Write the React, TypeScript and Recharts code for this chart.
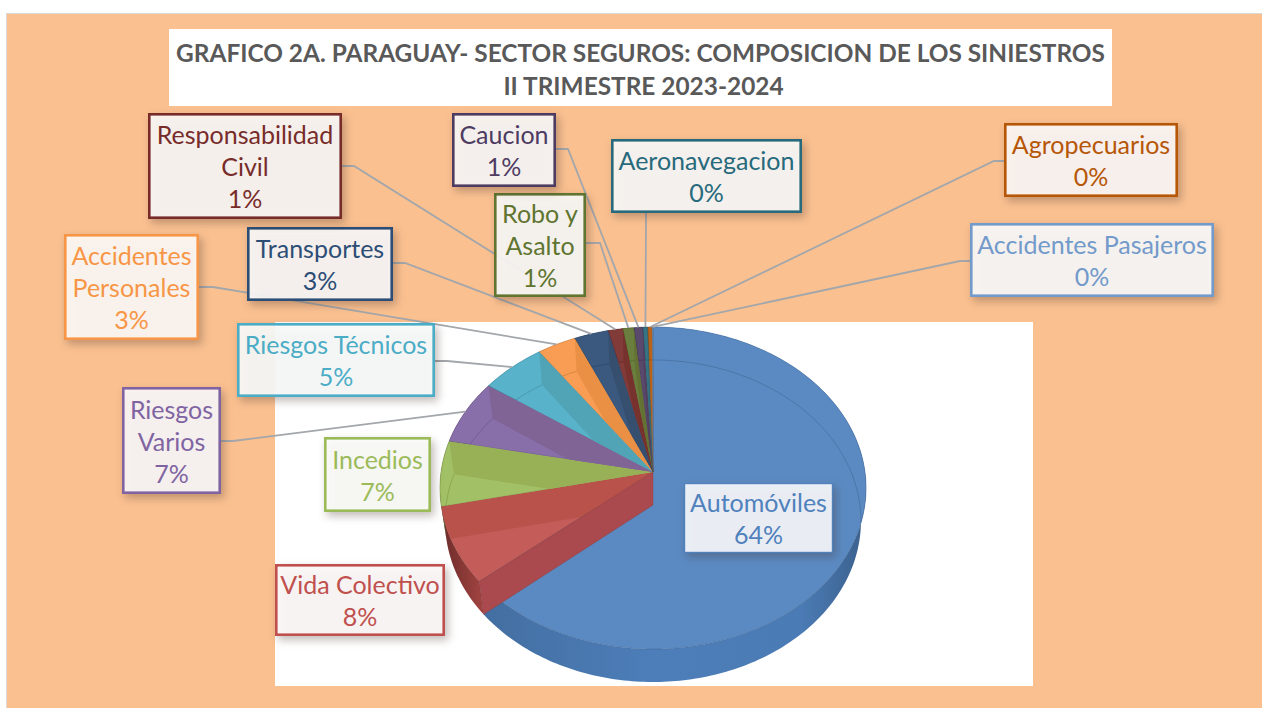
import React from 'react';
import { PieChart, Pie } from 'recharts';

const categoryLines: string[][] = [
  ['Automóviles'],
  ['Vida Colectivo'],
  ['Incedios'],
  ['Riesgos', 'Varios'],
  ['Riesgos Técnicos'],
  ['Accidentes', 'Personales'],
  ['Transportes'],
  ['Responsabilidad', 'Civil'],
  ['Robo y', 'Asalto'],
  ['Caucion'],
  ['Aeronavegacion'],
  ['Agropecuarios'],
  ['Accidentes Pasajeros'],
];
const values = [63.9, 7.7, 6.55, 6.55, 5.45, 3.25, 2.88, 1.22, 0.93, 0.74, 0.41, 0.37, 0.05];
const colors = ['#4f81bd', '#c0504d', '#9bbb59', '#8064a2', '#4bacc6', '#f79646', '#2c4d75', '#772c2a', '#5f7530', '#4d3b62', '#276a7c', '#b65708', '#729aca'];

const titleLines = ['GRAFICO 2A. PARAGUAY- SECTOR SEGUROS: COMPOSICION DE LOS SINIESTROS', 'II TRIMESTRE 2023-2024'];

const total = values.reduce((a, b) => a + b, 0);
const chartData = values.map((value, i) => ({ name: categoryLines[i].join(' '), value, fill: colors[i] }));

// layout of the callouts: [left, top, right, bottom]
const boxes: number[][] = [
  [684, 483, 833, 553],
  [275, 564, 445, 636],
  [324, 437, 431, 512],
  [122, 387, 221, 494],
  [237, 323, 435, 397],
  [64, 234, 199, 340],
  [247, 227, 393, 301],
  [148, 113, 342, 219],
  [494, 193, 586, 297],
  [452, 113, 556, 187],
  [611, 139, 802, 213],
  [1004, 123, 1178, 197],
  [970, 223, 1214, 297],
];
// leader start and elbow points (null: no leader)
const leaders: (number[][] | null)[] = [
  null,
  null,
  null,
  [[221, 441], [233, 441]],
  [[435, 361], [447, 361]],
  [[199, 287], [213, 287]],
  [[393, 263], [405, 263]],
  [[342, 166], [354, 166]],
  [[586, 243], [600, 243]],
  [[556, 149], [568, 149]],
  [[646, 213], [646, 220]],
  [[1004, 161], [994, 161]],
  [[970, 261], [960, 261]],
];

const RADIUS = 212;
const K = 0.752; // vertical squash
const PERSP = 0.0994;
const DEPTH = 33;
const BOTTOM_SCALE = 0.976;
const LABEL_FONT = 'Lato, sans-serif';

function mix(hex: string, to: string, t: number) {
  const p = (h: string) => [1, 3, 5].map((i) => parseInt(h.slice(i, i + 2), 16));
  const a = p(hex);
  const b = p(to);
  return '#' + a.map((v, i) => Math.round(v + (b[i] - v) * t).toString(16).padStart(2, '0')).join('');
}

function proj(cx: number, cy: number, deg: number, bottom: boolean): [number, number] {
  const rad = (deg * Math.PI) / 180;
  const u = Math.cos(rad);
  const v = -Math.sin(rad);
  const w = 1 - PERSP * v;
  const sx = bottom ? BOTTOM_SCALE : 1;
  return [cx + (RADIUS * sx * u) / w, cy + (bottom ? DEPTH : 0) + (RADIUS * K * v) / w];
}

function arc(cx: number, cy: number, a0: number, a1: number, bottom: boolean) {
  const n = Math.max(1, Math.ceil(Math.abs(a1 - a0)));
  const pts: [number, number][] = [];
  for (let i = 0; i <= n; i++) pts.push(proj(cx, cy, a0 + ((a1 - a0) * i) / n, bottom));
  return pts;
}

const toPath = (pts: number[][], close = true) =>
  'M' + pts.map((p) => `${p[0].toFixed(2)},${p[1].toFixed(2)}`).join('L') + (close ? 'Z' : '');

function WallShape(props: any) {
  const { cx, cy, startAngle, endAngle, fill } = props;
  const id = `wall-${Math.round(startAngle * 100)}`;
  const top = arc(cx, cy, startAngle, endAngle, false);
  const bot = arc(cx, cy, startAngle, endAngle, true);
  return (
    <g>
      <defs>
        <linearGradient id={id} gradientUnits="userSpaceOnUse" x1={cx - RADIUS} y1={0} x2={cx + RADIUS} y2={0}>
          <stop offset="0" stopColor={mix(fill, '#000000', 0.45)} />
          <stop offset="0.1" stopColor={mix(fill, '#000000', 0.15)} />
          <stop offset="0.5" stopColor={mix(fill, '#000000', 0.02)} />
          <stop offset="0.85" stopColor={mix(fill, '#000000', 0.05)} />
          <stop offset="1" stopColor={mix(fill, '#000000', 0.25)} />
        </linearGradient>
      </defs>
      <path d={toPath([...top, ...bot.reverse()])} fill={`url(#${id})`} stroke="none" />
    </g>
  );
}

function FaceShape(props: any) {
  const { cx, cy, startAngle, endAngle, fill } = props;
  const pts = arc(cx, cy, startAngle, endAngle, false);
  return <path d={toPath([[cx, cy], ...pts])} fill={mix(fill, '#ffffff', 0.07)} stroke={mix(fill, '#000000', 0.25)} strokeOpacity={0.55} strokeWidth={0.8} />;
}

function InnerShape(props: any) {
  const { cx, cy, startAngle, endAngle, fill } = props;
  const id = `inner-${Math.round(startAngle * 100)}`;
  const pts = arc(cx, cy, startAngle, endAngle, false);
  const wall = (deg: number) => [[cx, cy], proj(cx, cy, deg, false), proj(cx, cy, deg, true), [cx, cy + DEPTH]];
  const startV = -Math.sin((startAngle * Math.PI) / 180);
  const nearWall = startV > 0.4 && startAngle < 80;
  return (
    <g>
      <defs>
        <clipPath id={id}>
          <path d={toPath([[cx, cy], ...pts])} />
        </clipPath>
      </defs>
      <g clipPath={`url(#${id})`}>
        <path d={toPath(wall(endAngle))} fill={mix(fill, '#806040', 0.12)} />
        <path d={toPath(arc(cx, cy, startAngle, endAngle, true), false)} fill="none" stroke={mix(fill, '#000000', 0.3)} strokeOpacity={0.5} strokeWidth={0.8} />
      </g>
      {nearWall && <path d={toPath(wall(startAngle))} fill={mix(fill, '#2a2a55', 0.15)} stroke={mix(fill, '#000000', 0.25)} strokeOpacity={0.5} strokeWidth={0.8} />}
    </g>
  );
}

function renderLeader(props: any) {
  const { cx, cy, midAngle, index } = props;
  const l = leaders[index];
  if (!l) return <g />;
  const end = proj(cx, cy, midAngle, false);
  return <polyline points={[...l, end].map((p) => p.join(',')).join(' ')} fill="none" stroke="#a3a6aa" strokeWidth={1.8} />;
}

function renderBox(props: any) {
  const { index } = props;
  const [x0, y0, x1, y1] = boxes[index];
  const color = colors[index];
  const lines = [...categoryLines[index], `${Math.round((values[index] / total) * 100)}%`];
  const sw = index === 0 ? 1.2 : 2.6;
  const mx = (x0 + x1) / 2;
  const midY = (y0 + y1) / 2;
  const lh = 32;
  return (
    <g>
      <rect
        x={x0 + sw / 2}
        y={y0 + sw / 2}
        width={x1 - x0 - sw}
        height={y1 - y0 - sw}
        fill={mix(color, '#ffffff', 0.97)}
        fillOpacity={0.9}
        stroke={color}
        strokeWidth={sw}
        style={{ filter: 'drop-shadow(3px 4px 4px rgba(70,50,40,0.35))' }}
      />
      {lines.map((t, i) => (
        <text
          key={i}
          x={mx}
          y={midY + (i - (lines.length - 1) / 2) * lh}
          textAnchor="middle"
          dominantBaseline="central"
          fill={color}
          fontFamily={LABEL_FONT}
          fontSize={25}
        >
          {t}
        </text>
      ))}
    </g>
  );
}

const common = {
  data: chartData,
  dataKey: 'value',
  nameKey: 'name',
  cx: 653,
  cy: 472,
  outerRadius: RADIUS,
  startAngle: 90,
  endAngle: -270,
  stroke: 'none',
  isAnimationActive: false,
  labelLine: false,
};

export default function App() {
  return (
    <div style={{ position: 'absolute', left: 0, top: 0, width: 1262, height: 708, background: '#fff', overflow: 'hidden' }}>
      <div style={{ position: 'absolute', left: 6, top: 13, right: -4, bottom: -4, background: '#fac090', border: '1.5px solid #d9d9d9', boxSizing: 'border-box' }} />
      <div style={{ position: 'absolute', left: 275, top: 322, width: 758, height: 364, background: '#fff' }} />
      <div
        style={{
          position: 'absolute',
          left: 169,
          top: 29,
          width: 943,
          height: 77,
          background: '#fff',
          fontFamily: LABEL_FONT,
          fontWeight: 700,
          fontSize: 24.4,
          lineHeight: '33px',
          color: '#595959',
          textAlign: 'center',
          paddingTop: 7,
          boxSizing: 'border-box',
        }}
      >
        {titleLines.map((t, i) => (
          <div key={t} style={{ whiteSpace: 'nowrap', position: 'relative', left: i === 1 ? 3 : 0 }}>{t}</div>
        ))}
      </div>
      <div style={{ position: 'absolute', left: 0, top: 0 }}>
        <PieChart width={1262} height={708} margin={{ top: 0, right: 0, bottom: 0, left: 0 }}>
          <Pie {...common} shape={WallShape} />
          <Pie {...common} shape={FaceShape} />
          <Pie {...common} shape={InnerShape} label={renderLeader} />
          <Pie {...common} shape={() => <g />} label={renderBox} />
        </PieChart>
      </div>
    </div>
  );
}
